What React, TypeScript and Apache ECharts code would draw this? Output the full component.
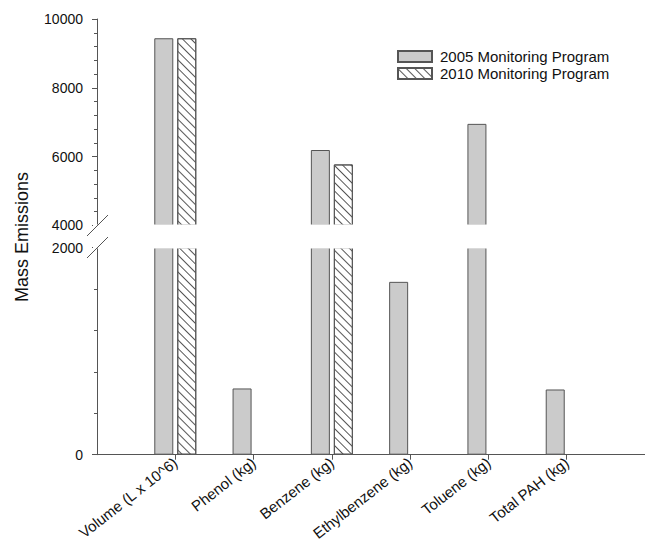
import React, { useEffect, useRef } from 'react';
import * as echarts from 'echarts';

const categories = [
  'Volume (L x 10^6)',
  'Phenol (kg)',
  'Benzene (kg)',
  'Ethylbenzene (kg)',
  'Toluene (kg)',
  'Total PAH (kg)',
];
const seriesNames = ['2005 Monitoring Program', '2010 Monitoring Program'];
const values2005: (number | null)[] = [9440, 640, 6190, 1670, 6950, 630];
const values2010: (number | null)[] = [9440, null, 5770, null, null, null];
const upperTicks = [4000, 6000, 8000, 10000];
const lowerTicks = [0, 2000];
const yTitle = 'Mass Emissions';

const FONT = 'Arial, "Liberation Sans", sans-serif';
const AXIS = '#555555';
const TEXT = '#111111';

export default function App() {
  const ref = useRef<HTMLDivElement>(null);

  useEffect(() => {
    document.body.style.margin = '0';
    const chart = echarts.init(ref.current!, null, { renderer: 'svg' });
    const positions = categories.map((_, i) => i + 1);
    const upperMin = upperTicks[0];
    const upperMax = upperTicks[upperTicks.length - 1];
    const lowerMin = lowerTicks[0];
    const lowerMax = lowerTicks[lowerTicks.length - 1];

    const toPairs = (vals: (number | null)[], min: number) =>
      vals
        .map((v, i) => (v != null && v >= min ? [positions[i], v] : null))
        .filter((d) => d !== null);

    const grayStyle = { color: '#cbcbcb', borderColor: AXIS, borderWidth: 1 };
    const hatchStyle = {
      color: '#ffffff',
      borderColor: AXIS,
      borderWidth: 1,
      decal: {
        symbol: 'rect',
        symbolSize: 1,
        dashArrayX: [1, 0],
        dashArrayY: [1, 4.6],
        rotation: Math.PI / 4,
        color: '#555555',
        backgroundColor: '#ffffff',
      },
    };

    const yAxisCommon = {
      type: 'value' as const,
      axisLine: { show: true, lineStyle: { color: AXIS, width: 1 } },
      axisTick: { show: true, length: 5, lineStyle: { color: AXIS } },
      minorTick: { show: true, splitNumber: 5, length: 3, lineStyle: { color: AXIS } },
      axisLabel: {
        fontFamily: FONT,
        fontSize: 14,
        color: TEXT,
        margin: 14,
        formatter: (v: number) => String(v),
      },
      splitLine: { show: false },
    };

    const barCommon = { type: 'bar' as const, barWidth: 19, barGap: '21%' };

    chart.setOption({
      animation: false,
      backgroundColor: '#ffffff',
      grid: [
        { left: 97, top: 19, width: 548, height: 206.3, containLabel: false, outerBoundsMode: 'none' },
        { left: 97, top: 247.7, width: 548, height: 207, containLabel: false, outerBoundsMode: 'none' },
      ],
      xAxis: [
        { gridIndex: 0, type: 'value', min: 0, max: 7, show: false },
        {
          gridIndex: 1,
          type: 'value',
          min: 0,
          max: 7,
          axisLine: { show: true, lineStyle: { color: AXIS, width: 1 } },
          axisTick: { show: true, length: 5, customValues: positions, lineStyle: { color: AXIS } },
          axisLabel: {
            customValues: positions,
            rotate: 38,
            margin: 6,
            fontFamily: FONT,
            fontSize: 15,
            color: TEXT,
            formatter: (v: number) => categories[Math.round(v) - 1] ?? '',
          },
          splitLine: { show: false },
        },
      ],
      yAxis: [
        { ...yAxisCommon, gridIndex: 0, min: upperMin, max: upperMax, interval: upperTicks[1] - upperTicks[0] },
        { ...yAxisCommon, gridIndex: 1, min: lowerMin, max: lowerMax, interval: lowerMax - lowerMin },
      ],
      legend: {
        orient: 'vertical',
        left: 392,
        top: 44,
        itemWidth: 34,
        itemHeight: 11,
        itemGap: 2,
        icon: 'rect',
        data: seriesNames,
        textStyle: { fontFamily: FONT, fontSize: 15, color: TEXT, padding: [0, 0, 0, 3] },
      },
      series: [
        { ...barCommon, name: seriesNames[0], xAxisIndex: 0, yAxisIndex: 0, data: toPairs(values2005, upperMin), itemStyle: grayStyle },
        { ...barCommon, name: seriesNames[1], xAxisIndex: 0, yAxisIndex: 0, data: toPairs(values2010, upperMin), itemStyle: hatchStyle },
        { ...barCommon, name: seriesNames[0], xAxisIndex: 1, yAxisIndex: 1, data: toPairs(values2005, lowerMin), itemStyle: grayStyle },
        { ...barCommon, name: seriesNames[1], xAxisIndex: 1, yAxisIndex: 1, data: toPairs(values2010, lowerMin), itemStyle: hatchStyle },
      ],
      graphic: [
        { type: 'rect', z: 100, shape: { x: 93, y: 224.6, width: 560, height: 23.8 }, style: { fill: '#ffffff' } },
        { type: 'line', z: 101, shape: { x1: 87, y1: 236, x2: 108, y2: 215 }, style: { stroke: AXIS, lineWidth: 1 } },
        { type: 'line', z: 101, shape: { x1: 87, y1: 258, x2: 108, y2: 237 }, style: { stroke: AXIS, lineWidth: 1 } },
        {
          type: 'text',
          z: 101,
          x: 22,
          y: 237,
          rotation: Math.PI / 2,
          style: { text: yTitle, fontFamily: FONT, fontSize: 18, fill: TEXT, align: 'center', verticalAlign: 'middle' },
        },
      ],
    });

    return () => chart.dispose();
  }, []);

  return <div ref={ref} style={{ position: 'fixed', left: 0, top: 0, width: 645, height: 544 }} />;
}
